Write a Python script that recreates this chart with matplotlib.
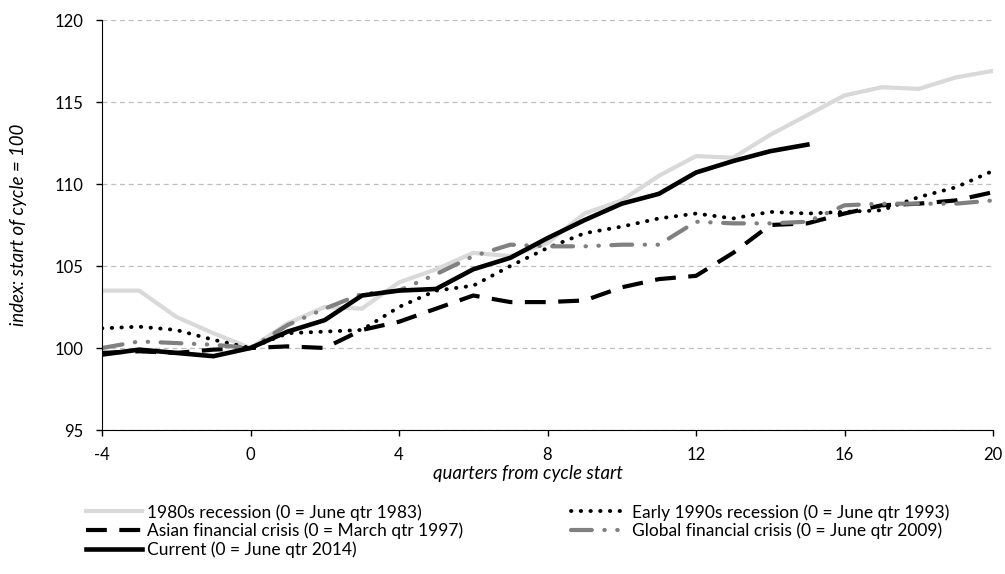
import matplotlib
matplotlib.use("Agg")
import matplotlib.pyplot as plt
from matplotlib.text import Text

plt.rcParams["font.family"] = ["Lato", "DejaVu Sans"]
plt.rcParams["axes.unicode_minus"] = False

quarters = list(range(-4, 21))

rec_1980s = [103.5, 103.5, 101.9, 100.9, 100.0, 101.5, 102.5, 102.4, 104.0, 104.8,
             105.8, 105.6, 106.4, 108.2, 109.0, 110.5, 111.7, 111.6, 113.0, 114.2,
             115.4, 115.9, 115.8, 116.5, 116.9]
rec_1990s = [101.2, 101.3, 101.1, 100.5, 100.0, 100.9, 101.0, 101.1, 102.5, 103.5,
             103.8, 105.0, 106.1, 107.0, 107.4, 107.9, 108.2, 107.9, 108.3, 108.2,
             108.3, 108.4, 109.2, 109.8, 110.8]
asian = [99.7, 99.8, 99.7, 99.9, 100.0, 100.1, 100.0, 101.1, 101.6, 102.4,
         103.2, 102.8, 102.8, 102.9, 103.7, 104.2, 104.4, 105.8, 107.5, 107.6,
         108.2, 108.7, 108.8, 109.0, 109.5]
gfc = [100.0, 100.4, 100.3, 100.2, 100.0, 101.4, 102.4, 103.3, 103.5, 104.5,
       105.6, 106.3, 106.2, 106.2, 106.3, 106.3, 107.7, 107.6, 107.6, 107.7,
       108.7, 108.8, 108.8, 108.8, 109.0]
current = [99.6, 99.9, 99.7, 99.5, 100.0, 101.0, 101.7, 103.2, 103.5, 103.6,
           104.8, 105.5, 106.7, 107.8, 108.8, 109.4, 110.7, 111.4, 112.0, 112.4]

labels = ["1980s recession (0 = June qtr 1983)",
          "Early 1990s recession (0 = June qtr 1993)",
          "Asian financial crisis (0 = March qtr 1997)",
          "Global financial crisis (0 = June qtr 2009)",
          "Current (0 = June qtr 2014)"]

W, H = 1005, 574
fig = plt.figure(figsize=(W / 100, H / 100), dpi=100)
renderer = fig.canvas.get_renderer()


def fit_size(s, width_px, **kw):
    # font size (pt) that makes string s about width_px wide
    t = Text(0, 0, s, fontsize=10, figure=fig, **kw)
    w = t.get_window_extent(renderer).width
    return 10 * width_px / w


ax = fig.add_axes([102 / W, 1 - 430 / H, 891 / W, 410 / H])

h1, = ax.plot(quarters, rec_1980s, color="#d9d9d9", lw=3.0, label=labels[0])
h2, = ax.plot(quarters, rec_1990s, color="black", lw=2.8, ls=(0, (0.1, 2.4)),
              dash_capstyle="round", label=labels[1])
h3, = ax.plot(quarters, asian, color="black", lw=3.0, ls=(0, (5, 3)), label=labels[2])
h4, = ax.plot(quarters, gfc, color="#808080", lw=3.0, ls=(0, (5, 3, 0.1, 3, 0.1, 3)),
              dash_capstyle="round", label=labels[3])
h5, = ax.plot(quarters[:len(current)], current, color="black", lw=3.3, label=labels[4])

ax.set_xlim(-4, 20)
ax.set_ylim(95, 120)
ax.set_xticks(range(-4, 21, 4))
ax.set_yticks(range(95, 121, 5))
ax.yaxis.grid(True, color="#bfbfbf", ls=(0, (4, 3)), lw=0.9)
ax.set_axisbelow(True)
for s in ("top", "right"):
    ax.spines[s].set_visible(False)
ax.tick_params(axis="both", direction="out", length=4.5, labelsize=12, width=1)
ax.tick_params(axis="y", pad=9)
ax.tick_params(axis="x", pad=8)

lab_fs = fit_size("quarters from cycle start", 190, style="italic")
fig.text(528 / W, 1 - 474 / H, "quarters from cycle start", fontsize=lab_fs,
         style="italic", ha="center", va="center")
fig.text(19 / W, 1 - 225 / H, "index: start of cycle = 100", fontsize=lab_fs,
         style="italic", ha="center", va="center", rotation=90)

leg_fs = fit_size(labels[1], 317)
hl = 56 / (leg_fs * 100 / 72)
common = dict(loc="upper left", frameon=False, fontsize=leg_fs, handlelength=hl,
              handletextpad=0.3, labelspacing=0.12, borderpad=0, borderaxespad=0)
fig.legend([h1, h3, h5], [labels[0], labels[2], labels[4]],
           bbox_to_anchor=(86 / W, 1 - 504 / H), **common)
fig.legend([h2, h4], [labels[1], labels[3]],
           bbox_to_anchor=(571 / W, 1 - 504 / H), **common)

fig.savefig("out.png", dpi=100)
